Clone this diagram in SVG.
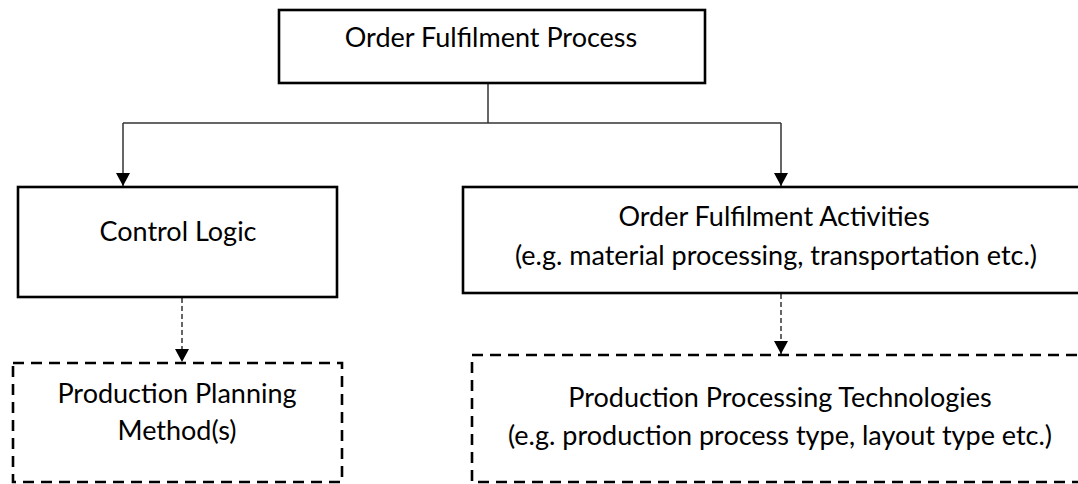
<svg xmlns="http://www.w3.org/2000/svg" width="1078" height="484" viewBox="0 0 1078 484">
  <style>
    .box { fill: #ffffff; stroke: #000000; stroke-width: 2.6; }
    .dbox { fill: #ffffff; stroke: #000000; stroke-width: 2.6; stroke-dasharray: 11 7; }
    .lbl { font-family: Lato, "Liberation Sans", sans-serif; font-size: 27px; fill: #000000; text-anchor: middle; }
    .wire { fill: none; stroke: #333333; stroke-width: 1.5; }
    .dwire { fill: none; stroke: #333333; stroke-width: 1.5; stroke-dasharray: 5 3; }
  </style>
  <defs>
    <marker id="arrow" viewBox="0 0 13 14" refX="13" refY="7" markerWidth="13" markerHeight="14" markerUnits="userSpaceOnUse" orient="auto">
      <path d="M0,0 L13,7 L0,14 Z" fill="#000000"/>
    </marker>
  </defs>

  <g id="connectors">
    <path class="wire" d="M488,84 V123"/>
    <path class="wire" d="M123,123 H781"/>
    <path class="wire" d="M123,123 V186" marker-end="url(#arrow)"/>
    <path class="wire" d="M781,123 V186" marker-end="url(#arrow)"/>
    <path class="dwire" d="M182,298 V362" marker-end="url(#arrow)"/>
    <path class="dwire" d="M781,294 V354" marker-end="url(#arrow)"/>
  </g>

  <g id="order-fulfilment-process">
    <rect class="box" x="279" y="10" width="426" height="73"/>
    <text class="lbl" x="491" y="47">Order Fulfilment Process</text>
  </g>

  <g id="control-logic">
    <rect class="box" x="18" y="187" width="319" height="110"/>
    <text class="lbl" x="178" y="241">Control Logic</text>
  </g>

  <g id="order-fulfilment-activities">
    <rect class="box" x="463" y="187" width="630" height="106"/>
    <text class="lbl" x="774" y="226">Order Fulfilment Activities</text>
    <text class="lbl" x="776" y="265">(e.g. material processing, transportation etc.)</text>
  </g>

  <g id="production-planning-methods">
    <rect class="dbox" x="13" y="363" width="329" height="119"/>
    <text class="lbl" x="177" y="403">Production Planning</text>
    <text class="lbl" x="177" y="440">Method(s)</text>
  </g>

  <g id="production-processing-technologies">
    <rect class="dbox" x="472" y="355" width="620" height="127"/>
    <text class="lbl" x="780" y="407">Production Processing Technologies</text>
    <text class="lbl" x="780" y="445">(e.g. production process type, layout type etc.)</text>
  </g>
</svg>
